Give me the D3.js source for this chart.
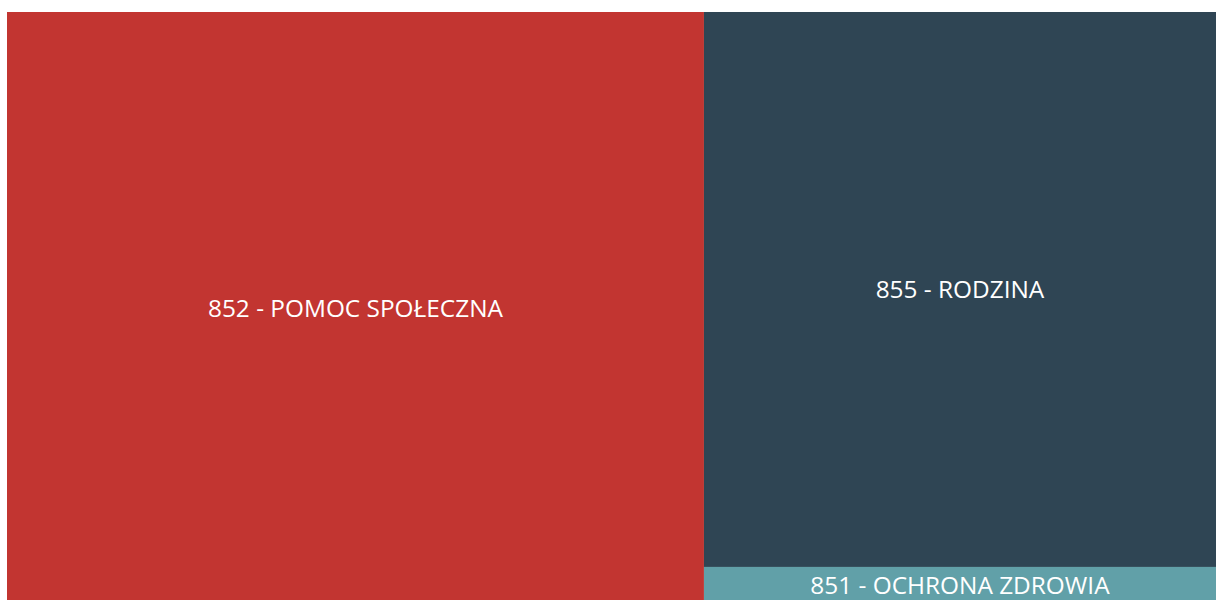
<!DOCTYPE html>
<html>
<head>
<meta charset="utf-8">
<script src="https://cdn.jsdelivr.net/npm/d3@7"></script>
<style>
	html, body { margin: 0; padding: 0; background: #fff; overflow: hidden; }
	svg { display: block; }
</style>
</head>
<body>
<svg width="1216" height="600"></svg>
<script>
let categories = ['852 - POMOC SPOŁECZNA', '855 - RODZINA', '851 - OCHRONA ZDROWIA'];
let values = [415.4, 286.1, 19.1];
let colors = ['#c23531', '#2f4554', '#61a0a8'];

let svg = d3.select('svg');

let margin = { 'top': 12, 'right': 0, 'bottom': -4, 'left': 7 };  // wykres wychodzi nieco poza okno
let width = + svg.attr('width') - margin.left - margin.right;
let height = + svg.attr('height') - margin.top - margin.bottom;

let root = d3
	.hierarchy({ children: categories.map((name, i) => ({ name: name, value: values[i], color: colors[i] })) })
	.sum(d => d.value || 0)
	.sort((a, b) => b.value - a.value);

d3.treemap()
	.tile(d3.treemapSquarify)
	.size([width, height])
	.paddingInner(0)
	(root);

let chart = svg
	.append('g')
	.attr('transform', 'translate(' + margin.left + ', ' + margin.top + ')');

let cell = chart
	.selectAll('g.cell')
	.data(root.leaves())
	.enter()
	.append('g')
	.attr('class', 'cell');

cell
	.append('rect')
	.attr('x', d => d.x0)
	.attr('y', d => d.y0)
	.attr('width', d => d.x1 - d.x0)
	.attr('height', d => d.y1 - d.y0)
	.style('fill', d => d.data.color);

cell
	.append('text')
	.attr('x', d => (d.x0 + d.x1) / 2)
	.attr('y', d => (d.y0 + d.y1) / 2 - 1)
	.attr('text-anchor', 'middle')
	.attr('dominant-baseline', 'central')
	.style('font-family', '"Open Sans", "Noto Sans", sans-serif')
	.style('font-size', '24.4px')
	.style('fill', '#fff')
	.text(d => d.data.name);
</script>
</body>
</html>
